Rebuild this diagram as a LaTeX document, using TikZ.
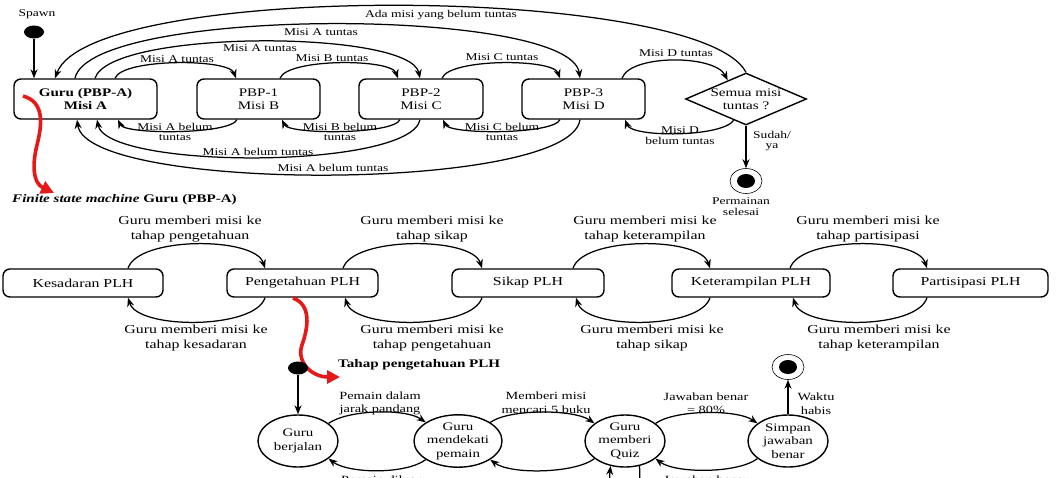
\documentclass[tikz,border=0pt]{standalone}
\usepackage{fontspec}
\setmainfont{Liberation Serif}[FakeStretch=1.3]
\usetikzlibrary{shapes.geometric,arrows.meta,calc}
\newcommand{\fTL}{\fontsize{10.4}{10.8}\selectfont}
\newcommand{\fTB}{\fontsize{11.6}{13}\selectfont}
\newcommand{\fML}{\fontsize{12.2}{15}\selectfont}
\newcommand{\fBL}{\fontsize{11}{13.5}\selectfont}
\newcommand{\fBS}{\fontsize{11.5}{13.5}\selectfont}
\definecolor{rd}{RGB}{230,25,25}
\tikzset{
  tbox/.style={draw, rounded corners=7pt, line width=1.4pt, align=center, inner sep=0pt, font=\fTB, minimum height=40pt},
  mbox/.style={draw, rounded corners=7pt, line width=1.4pt, align=center, inner sep=0pt, font=\fML, minimum height=28pt},
  tl/.style={font=\fTL, align=center, inner sep=0pt},
  ml/.style={font=\fML, align=center, inner sep=0pt},
  bl/.style={font=\fBL, align=center, inner sep=0pt},
  tr/.style={line width=1.25pt, -{Stealth[length=9pt,width=7pt]}},
  st/.style={draw, ellipse, line width=1.4pt, minimum width=80pt, minimum height=52pt, inner sep=0pt, align=center, font=\fBS},
  initdot/.style={fill, ellipse, minimum width=20pt, minimum height=13pt, inner sep=0pt},
  finst/.style={draw, ellipse, line width=0.6pt, minimum width=32pt, minimum height=25pt, inner sep=0pt,
    path picture={\fill (path picture bounding box.center) ellipse [x radius=9pt, y radius=7pt];}},
  redarr/.style={draw=rd, line width=3.6pt, -{Triangle[length=13pt,width=13pt]}}
}
\begin{document}
\begin{tikzpicture}[x=1pt,y=-1pt]
\useasboundingbox (0,0) rectangle (1057,477);
\fill[white] (0,0) rectangle (1057,477);
\clip (0,0) rectangle (1057,477);

% ---------------- top row ----------------
\node[tl] (spawnl) at (37,14) {Spawn};
\node[initdot] (s0) at (34,32) {};
\node[tbox, minimum width=143pt] (g) at (85.5,99) {\textbf{Guru (PBP-A)}\\\textbf{Misi A}};
\node[tbox, minimum width=123pt] (p1) at (258.5,99) {PBP-1\\Misi B};
\node[tbox, minimum width=124pt] (p2) at (421,99) {PBP-2\\Misi C};
\node[tbox, minimum width=123pt] (p3) at (583.5,99) {PBP-3\\Misi D};
\node[draw, diamond, line width=1.4pt, minimum width=121pt, minimum height=52pt, inner sep=0pt, aspect=2.33, align=center, font=\fTB] (dia) at (746,99) {Semua misi\\tuntas ?};
\node[finst] (fin1) at (746,181) {};
\node[tl] (sudah) at (772,141) {Sudah/\\ya};
\node[tl] (selesai) at (741,207) {Permainan\\selesai};

\draw[tr] (s0) -- (s0 |- g.north);

% upper arcs
\draw[tr] (dia.north) .. controls +(-46,-88) and +(35,-97) .. ([xshift=-30.5pt]g.north);
\node[tl] (lada) at (441,15) {Ada misi yang belum tuntas};
\draw[tr] ([xshift=-10.5pt]g.north) .. controls +(15,-72) and +(-10,-72) .. ([xshift=-3.5pt]p3.north);
\node[tl] (la3) at (321,32) {Misi A tuntas};
\draw[tr] ([xshift=9.5pt]g.north) .. controls +(15,-49) and +(-10,-49) .. ([xshift=-1pt]p2.north);
\node[tl] (la2) at (260,48) {Misi A tuntas};
\draw[tr] ([xshift=29.5pt]g.north) .. controls +(7,-20) and +(-7,-20) .. ([xshift=-22.5pt]p1.north);
\node[tl] (la1) at (177,59) {Misi A tuntas};
\draw[tr] ([xshift=21.5pt]p1.north) .. controls +(7,-20) and +(-7,-20) .. ([xshift=-23pt]p2.north);
\node[tl] (lb) at (332,58) {Misi B tuntas};
\draw[tr] ([xshift=21pt]p2.north) .. controls +(7,-20) and +(-7,-20) .. ([xshift=-23.5pt]p3.north);
\node[tl] (lc) at (502,57) {Misi C tuntas};
\draw[tr] ([xshift=38.5pt]p3.north) .. controls +(8,-24) and +(-13,-26) .. ($(dia.north)!0.3!(dia.west)$);
\node[tl] (ld) at (676,53) {Misi D tuntas};

% lower arcs
\draw[tr] ([xshift=-21.5pt]p1.south) .. controls +(-7,15) and +(7,15) .. ([xshift=32.5pt]g.south);
\node[tl] (lab1) at (175,132) {Misi A belum\\tuntas};
\draw[tr] ([xshift=-21pt]p2.south) .. controls +(-7,15) and +(7,15) .. ([xshift=23.5pt]p1.south);
\node[tl] (lbb) at (340,132) {Misi B belum\\tuntas};
\draw[tr] ([xshift=-23.5pt]p3.south) .. controls +(-7,15) and +(7,15) .. ([xshift=22pt]p2.south);
\node[tl] (lcb) at (502,132) {Misi C belum\\tuntas};
\draw[tr] ($(dia.south)!0.2!(dia.west)$) .. controls +(-12,17) and +(7,18) .. ([xshift=41.5pt]p3.south);
\node[tl] (ldb) at (680,135.5) {Misi D\\belum tuntas};
\draw[tr] ([xshift=-1pt]p2.south) .. controls +(-10,50) and +(10,50) .. ([xshift=11.5pt]g.south);
\node[tl] (lab2) at (258,152) {Misi A belum tuntas};
\draw[tr] ([xshift=-3.5pt]p3.south) .. controls +(-10,73) and +(10,73) .. ([xshift=-8.5pt]g.south);
\node[tl] (lab3) at (333,168) {Misi A belum tuntas};

\draw[tr] (dia.south) -- (fin1.north);

% red arrow 1
\coordinate (ra1) at (23,96);
\coordinate (rb1) at (54,193);
\draw[redarr] (ra1) .. controls (45,102) and (42,125) .. (37,145) .. controls (32,165) and (33,183) .. (rb1);

\node[anchor=west, inner sep=0pt, font=\fTB] (fsm) at (12,200) {\textbf{\textit{Finite state machine}} \textbf{Guru (PBP-A)}};

% ---------------- middle row ----------------
\node[mbox, minimum width=160pt] (k1) at (83,283) {Kesadaran PLH};
\node[mbox, minimum width=151pt] (k2) at (302.5,283) {Pengetahuan PLH};
\node[mbox, minimum width=152pt] (k3) at (528,283) {Sikap PLH};
\node[mbox, minimum width=158pt] (k4) at (751,283) {Keterampilan PLH};
\node[mbox, minimum width=155pt] (k5) at (970.5,283) {Partisipasi PLH};

\draw[tr] ([xshift=45pt]k1.north) .. controls +(10,-32) and +(-10,-32) .. ([xshift=-37.5pt]k2.north);
\draw[tr] ([xshift=-37.5pt]k2.south) .. controls +(-10,32) and +(10,32) .. ([xshift=45pt]k1.south);
\draw[tr] ([xshift=40.5pt]k2.north) .. controls +(10,-32) and +(-10,-32) .. ([xshift=-46pt]k3.north);
\draw[tr] ([xshift=-46pt]k3.south) .. controls +(-10,32) and +(10,32) .. ([xshift=42.5pt]k2.south);
\draw[tr] ([xshift=45pt]k3.north) .. controls +(10,-32) and +(-10,-32) .. ([xshift=-41pt]k4.north);
\draw[tr] ([xshift=-41pt]k4.south) .. controls +(-10,32) and +(10,32) .. ([xshift=48pt]k3.south);
\draw[tr] ([xshift=39pt]k4.north) .. controls +(10,-32) and +(-10,-32) .. ([xshift=-43.5pt]k5.north);
\draw[tr] ([xshift=-43.5pt]k5.south) .. controls +(-10,32) and +(10,32) .. ([xshift=42pt]k4.south);

\node[ml] (m1t) at (190,229.5) {Guru memberi misi ke\\tahap pengetahuan};
\node[ml] (m1b) at (196,338.5) {Guru memberi misi ke\\tahap kesadaran};
\node[ml] (m2t) at (432,229.5) {Guru memberi misi ke\\tahap sikap};
\node[ml] (m2b) at (432,338.5) {Guru memberi misi ke\\tahap pengetahuan};
\node[ml] (m3t) at (645,229.5) {Guru memberi misi ke\\tahap keterampilan};
\node[ml] (m3b) at (652,338.5) {Guru memberi misi ke\\tahap sikap};
\node[ml] (m4t) at (868,229.5) {Guru memberi misi ke\\tahap partisipasi};
\node[ml] (m4b) at (879,338.5) {Guru memberi misi ke\\tahap keterampilan};

% red arrow 2
\coordinate (ra2) at (293,298);
\coordinate (rb2) at (340,377);
\draw[redarr] (ra2) .. controls (312,305) and (308,328) .. (302,345) .. controls (296,362) and (312,377) .. (rb2);

\node[anchor=west, inner sep=0pt, font=\fTB] (tahap) at (338,365) {\textbf{Tahap pengetahuan PLH}};

% ---------------- bottom row ----------------
\node[initdot] (i2) at (298,368) {};
\node[st] (b1) at (298,441) {Guru\\berjalan};
\node[st] (b2) at (458,441) {Guru\\mendekati\\pemain};
\node[st] (b3) at (625,441) {Guru\\memberi\\Quiz};
\node[st] (b4) at (788,441) {Simpan\\jawaban\\benar};
\node[finst] (f2) at (788,367) {};

\draw[tr] (i2) -- (b1.north);
\draw[tr] (b4.north) -- (f2.south);
\node[bl] (waktu) at (816,403.5) {Waktu\\habis};

\draw[tr] (b1.30) .. controls +(20,-14) and +(-20,-14) .. (b2.150);
\draw[tr] (b2.30) .. controls +(20,-14) and +(-20,-14) .. (b3.150);
\draw[tr] (b3.30) .. controls +(20,-14) and +(-20,-14) .. (b4.150);
\draw[tr] (b2.-150) .. controls +(-20,15) and +(20,15) .. (b1.-30);
\draw[tr] (b3.-150) .. controls +(-20,15) and +(20,15) .. (b2.-30);
\draw[tr] (b4.-150) .. controls +(-20,15) and +(20,15) .. (b3.-30);
\draw[tr] (b3.-60) .. controls +(5,45) and +(-5,45) .. (b3.-120);

\node[bl] (q1) at (380,403.5) {Pemain dalam\\jarak pandang};
\node[bl] (q2) at (546,402.5) {Memberi misi\\mencari 5 buku};
\node[bl] (q3) at (706,403) {Jawaban benar\\= 80\%};
\node[bl] (q4) at (381,480) {Pemain diluar};
\node[bl] (q5) at (706,480) {Jawaban benar};
\end{tikzpicture}
\end{document}
